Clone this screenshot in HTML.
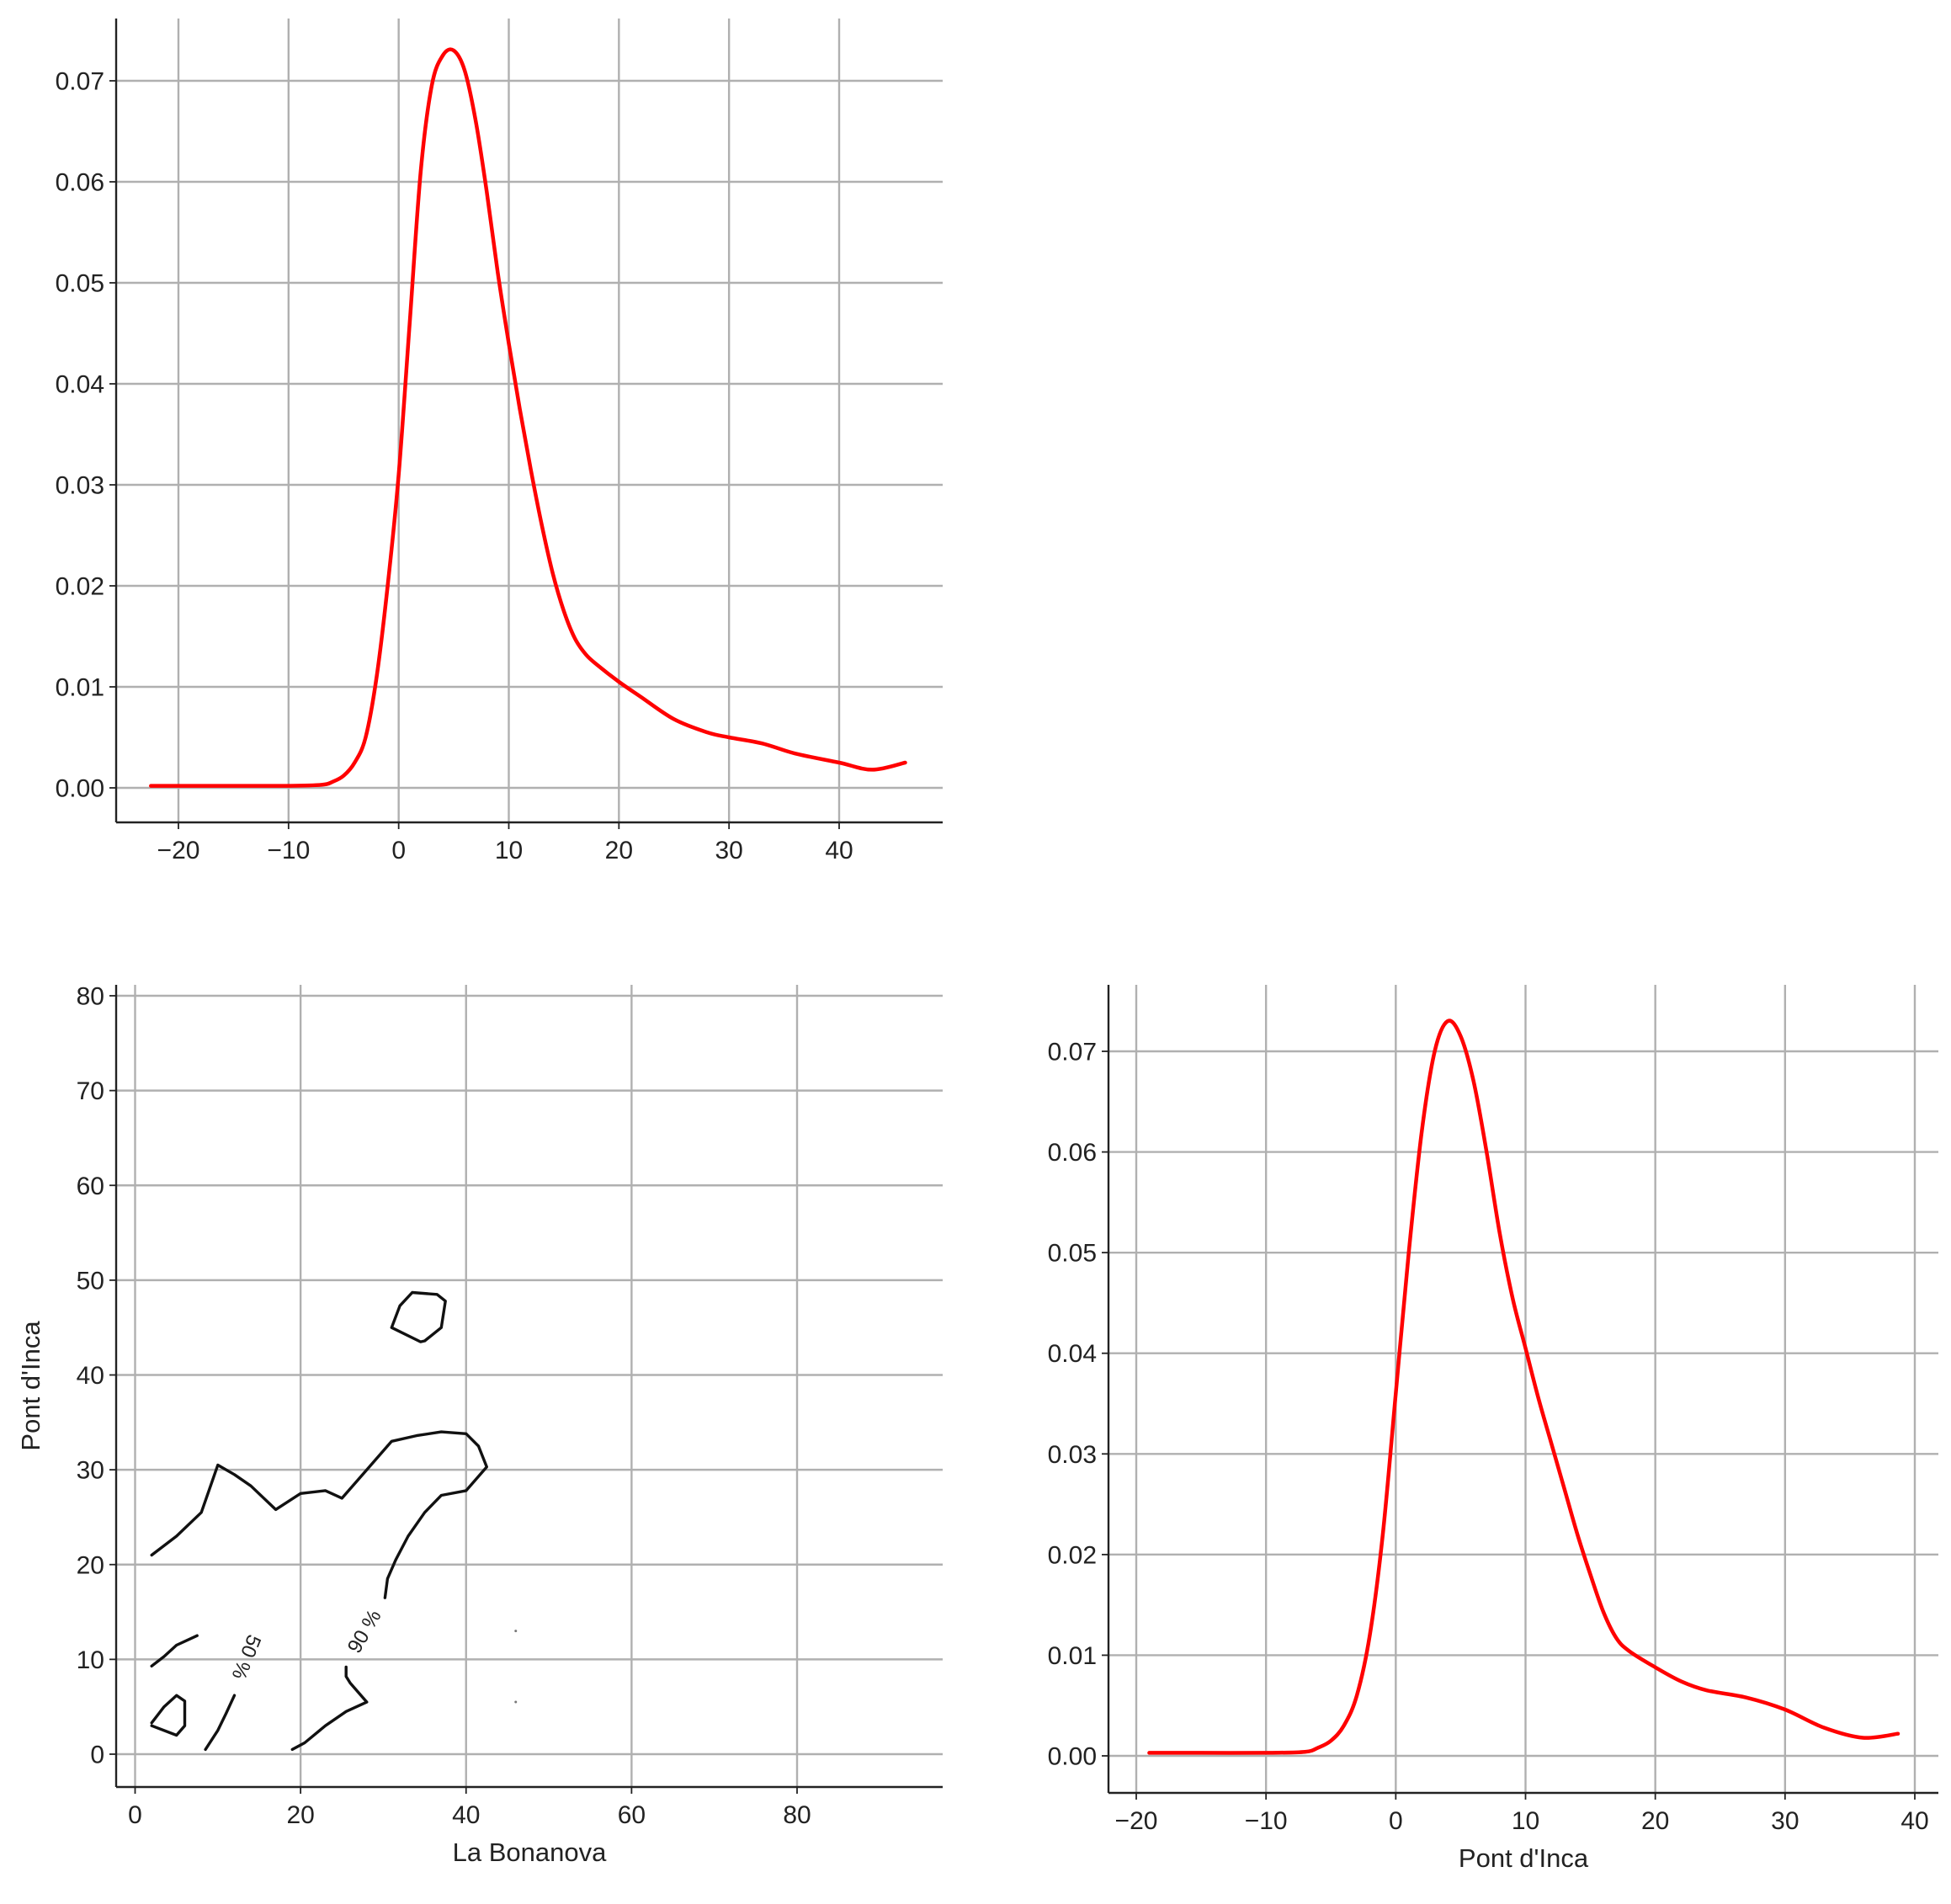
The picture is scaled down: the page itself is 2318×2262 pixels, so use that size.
<!DOCTYPE html>
<html><head><meta charset="utf-8"><style>
html,body{margin:0;padding:0;background:#fff}
svg{display:block}
text{font-family:"Liberation Sans","DejaVu Sans",sans-serif;fill:#222}
</style></head><body>
<svg id="fig" width="2318" height="2262" viewBox="0 0 2318 2262" xmlns="http://www.w3.org/2000/svg"></svg>
<script>
// top-left KDE (La Bonanova)
const kde1X=[-22.5,-15,-10,-7,-6,-5,-4,-3,-2,-1,0,1,2,3,4,5,6,7,8,9,10,11,12,13,14,15,16,17,18,20,22,25,28,30,33,36,40,43,46];
const kde1Y=[0.0002,0.0002,0.0002,0.0003,0.0006,0.0012,0.0025,0.005,0.011,0.02,0.031,0.046,0.061,0.0695,0.0725,0.073,0.071,0.066,0.059,0.051,0.044,0.0375,0.0315,0.026,0.0212,0.0175,0.0148,0.0132,0.0122,0.0105,0.009,0.0068,0.0055,0.005,0.0044,0.0034,0.0025,0.0018,0.0025];
// bottom-right KDE (Pont d'Inca)
const kde2X=[-19,-15,-10,-7,-6,-5,-4,-3,-2,-1,0,1,2,3,4,5,6,7,8,9,10,11,12,13,14,15,16,17,18,20,22,24,27,30,33,36,38.7];
const kde2Y=[0.0003,0.0003,0.0003,0.0004,0.0008,0.0015,0.003,0.006,0.012,0.022,0.036,0.05,0.062,0.07,0.073,0.0715,0.067,0.06,0.052,0.0455,0.0405,0.0355,0.031,0.0265,0.022,0.018,0.0143,0.0117,0.0104,0.0088,0.0074,0.0065,0.0058,0.0046,0.0028,0.0018,0.0022];
const yTicksKde=[0,0.01,0.02,0.03,0.04,0.05,0.06,0.07];
const xTicks1=[-20,-10,0,10,20,30,40];
const xTicks2=[-20,-10,0,10,20,30,40];
const xTicks3=[0,20,40,60,80];
const yTicks3=[0,10,20,30,40,50,60,70,80];
// contour lines (x = La Bonanova, y = Pont d'Inca)
const c90aX=[2,5,8,9,10,12,14,17,20,23,25,28,31,34,37,40,41.5,42.5,40,37,35,33,31.5,30.5,30.2];
const c90aY=[21,23,25.5,28,30.5,29.5,28.3,25.8,27.5,27.8,27,30,33,33.6,34,33.8,32.5,30.3,27.8,27.3,25.5,23,20.5,18.5,16.5];
const c90bX=[25.5,25.5,26,28,25.5,23,20.5,19];
const c90bY=[9.2,8.2,7.5,5.5,4.5,3,1.2,0.5];
const c90cX=[31,32,33.5,36.5,37.5,37,35,34.5,31];
const c90cY=[45,47.3,48.7,48.5,47.8,45,43.6,43.5,45];
const c50aX=[2,3.5,5,7.5];
const c50aY=[9.3,10.3,11.5,12.5];
const c50bX=[8.5,10,11,12];
const c50bY=[0.5,2.5,4.3,6.2];
const c50cX=[2,3.5,5,6,6,5,2];
const c50cY=[3.3,5,6.2,5.6,3,2,3];
const dotX=[46,46];
const dotY=[13,5.5];

const svg=document.getElementById('fig');
const NS='http://www.w3.org/2000/svg';
function mk(tag,attrs,parent){const e=document.createElementNS(NS,tag);for(const k in attrs)e.setAttribute(k,attrs[k]);(parent||svg).appendChild(e);return e;}
function lin(d0,d1,p0,p1){return v=>p0+(v-d0)*(p1-p0)/(d1-d0);}

function panel(o){
  const g=mk('g',{});
  
  
  const sx=lin(o.xd[0],o.xd[1],o.xp[0],o.xp[1]);
  const sy=lin(o.yd[0],o.yd[1],o.yp[0],o.yp[1]);
  o.xt.forEach(t=>{
    const x=sx(t);
    const l=mk('line',{x1:x,x2:x,y1:o.top,y2:o.bottom,stroke:'#b0b0b0','stroke-width':2.4},g);
    
    
    mk('line',{x1:x,x2:x,y1:o.bottom,y2:o.bottom+8,stroke:'#222','stroke-width':1.8},g);
    const tx=mk('text',{x:x,y:o.bottom+43,'text-anchor':'middle','font-size':30},g);
    tx.textContent=(t<0?'\u2212'+(-t):''+t);
    
    
  });
  o.yt.forEach(t=>{
    const y=sy(t);
    const l=mk('line',{x1:o.left,x2:o.right,y1:y,y2:y,stroke:'#b0b0b0','stroke-width':2.4},g);
    
    
    mk('line',{x1:o.left-8,x2:o.left,y1:y,y2:y,stroke:'#222','stroke-width':1.8},g);
    const tx=mk('text',{x:o.left-14,y:y+10.5,'text-anchor':'end','font-size':30},g);
    tx.textContent=o.yfmt(t);
    
    
  });
  const ls=mk('line',{x1:o.left,x2:o.left,y1:o.top,y2:o.bottom,stroke:'#222','stroke-width':2.4},g);
  
  
  const bs=mk('line',{x1:o.left,x2:o.right,y1:o.bottom,y2:o.bottom,stroke:'#222','stroke-width':2.4},g);
  
  
  if(o.xlabel){const t=mk('text',{x:(o.left+o.right)/2,y:o.bottom+88,'text-anchor':'middle','font-size':31},g);t.textContent=o.xlabel;
    
    }
  if(o.ylabel){const cy=(o.top+o.bottom)/2;const t=mk('text',{x:0,y:0,'text-anchor':'middle','font-size':31,transform:`translate(47,${cy}) rotate(-90)`},g);t.textContent=o.ylabel;
    
    }
  return {g,sx,sy};
}
function poly(p,xs,ys,color,w,name){
  const pts=xs.map((x,i)=>p.sx(x).toFixed(1)+','+p.sy(ys[i]).toFixed(1)).join(' ');
  const e=mk('polyline',{points:pts,fill:'none',stroke:color,'stroke-width':w,'stroke-linejoin':'round','stroke-linecap':'round'},p.g);
  
  
}
function smooth(p,xs,ys,color,w,name){
  const P=xs.map((x,i)=>[p.sx(x),p.sy(ys[i])]);
  let d='M'+P[0][0]+','+P[0][1];
  for(let i=0;i<P.length-1;i++){
    const p0=P[Math.max(0,i-1)],p1=P[i],p2=P[i+1],p3=P[Math.min(P.length-1,i+2)];
    const c1=[p1[0]+(p2[0]-p0[0])/6,p1[1]+(p2[1]-p0[1])/6];
    const c2=[p2[0]-(p3[0]-p1[0])/6,p2[1]-(p3[1]-p1[1])/6];
    d+=`C${c1[0]},${c1[1]} ${c2[0]},${c2[1]} ${p2[0]},${p2[1]}`;
  }
  const e=mk('path',{d:d,fill:'none',stroke:color,'stroke-width':w,'stroke-linejoin':'round','stroke-linecap':'round'},p.g);
  
  
}
const fmt2=t=>t.toFixed(2);

const p1=panel({name:'kde-la-bonanova',left:138,right:1120,top:22,bottom:977,xd:[-20,40],xp:[212,997],yd:[0,0.07],yp:[936,96],xt:xTicks1,yt:yTicksKde,yfmt:fmt2});
smooth(p1,kde1X,kde1Y,'#ff0000',4.5,'kde-curve-la-bonanova');

const p3=panel({name:'contour-joint',left:138,right:1120,top:1170,bottom:2123,xd:[0,80],xp:[160.5,947],yd:[0,80],yp:[2084,1183],xt:xTicks3,yt:yTicks3,yfmt:t=>''+t,xlabel:'La Bonanova',ylabel:"Pont d'Inca"});
poly(p3,c90aX,c90aY,'#111',3.4,'contour-90-main');
poly(p3,c90bX,c90bY,'#111',3.4,'contour-90-lower');
poly(p3,c90cX,c90cY,'#111',3.4,'contour-90-island');
poly(p3,c50aX,c50aY,'#111',3.4,'contour-50-upper');
poly(p3,c50bX,c50bY,'#111',3.4,'contour-50-lower');
poly(p3,c50cX,c50cY,'#111',3.4,'contour-50-loop');
dotX.forEach((x,i)=>{const c=mk('circle',{cx:p3.sx(x),cy:p3.sy(dotY[i]),r:1.5,fill:'#777'},p3.g);
  
  });
let lb=mk('text',{x:0,y:0,'text-anchor':'middle','font-size':24,fill:'#555',transform:`translate(${p3.sx(12.7)},${p3.sy(10.5)}) rotate(112)`},p3.g);
lb.textContent='50 %';


lb=mk('text',{x:0,y:0,'text-anchor':'middle','font-size':24,fill:'#555',transform:`translate(${p3.sx(28.4)},${p3.sy(12.6)}) rotate(-60)`},p3.g);
lb.textContent='90 %';



const p4=panel({name:'kde-pont-dinca',left:1317,right:2303,top:1170,bottom:2130,xd:[-20,40],xp:[1350,2275],yd:[0,0.07],yp:[2086,1249],xt:xTicks2,yt:yTicksKde,yfmt:fmt2,xlabel:"Pont d'Inca"});
smooth(p4,kde2X,kde2Y,'#ff0000',4.5,'kde-curve-pont-dinca');
</script>
</body></html>
